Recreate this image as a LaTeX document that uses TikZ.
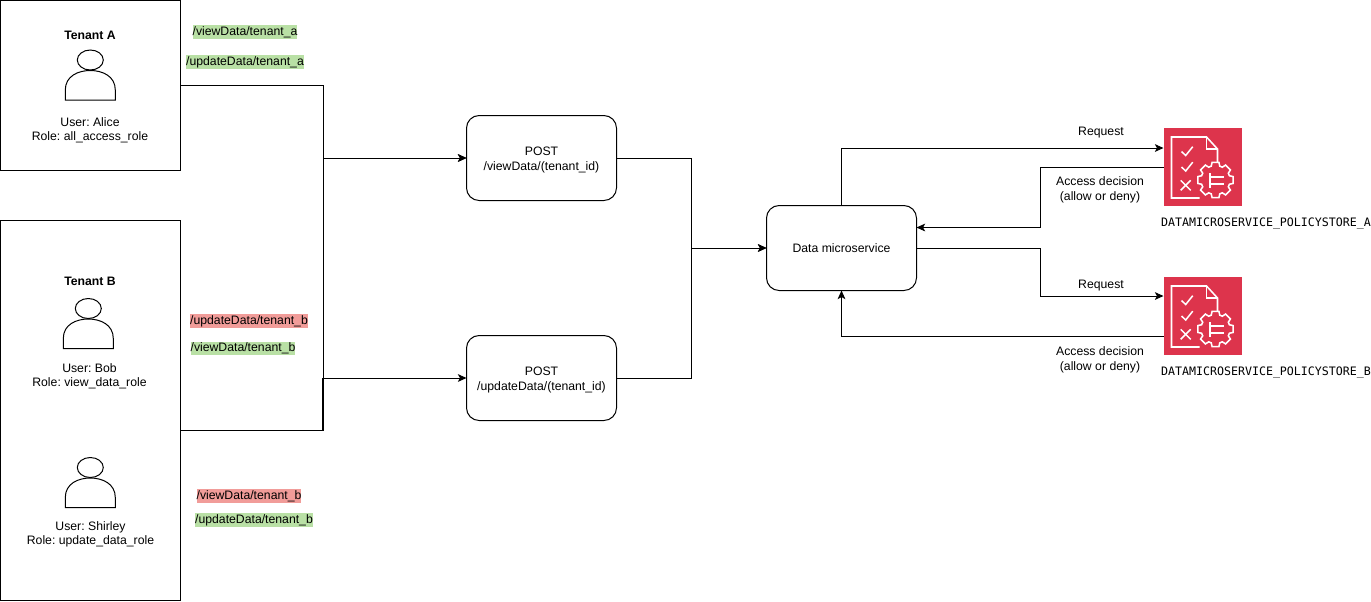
\documentclass[tikz,border=0pt]{standalone}
\usepackage{fontspec}
\setmainfont{Liberation Sans}
\newfontfamily\policyfont{DejaVu Sans Mono}
\usetikzlibrary{arrows.meta}
\frenchspacing
\definecolor{okgreen}{HTML}{B9E0A5}
\definecolor{denyred}{HTML}{F19C99}
\definecolor{policyred}{HTML}{DD344C}
\tikzset{
    every node/.style={font=\fontsize{9.18}{10.8}\selectfont, align=center, inner sep=0pt, outer sep=0pt},
    tenantbox/.style={draw, line width=0.75pt, minimum width=135pt},
    apibox/.style={draw, line width=0.75pt, rounded corners=9.5pt, minimum width=112.5pt, minimum height=63.75pt},
    policybox/.style={fill=policyred, minimum width=58.5pt, minimum height=58.5pt},
    link/.style={line width=0.75pt},
    arrow/.style={link, -{Stealth[length=6.5pt,width=5.8pt,inset=1.6pt]}},
    allowed/.style={fill=okgreen, inner ysep=1pt},
    denied/.style={fill=denyred, inner ysep=1pt},
    user/.pic={
        \draw[line width=0.75pt] (-25,0) -- (-25,-10) .. controls (-25,-24) and (-12,-29.5) .. (0,-29.5)
            .. controls (12,-29.5) and (25,-24) .. (25,-10) -- (25,0) -- cycle;
        \draw[line width=0.75pt] (0,-40) ellipse [x radius=13, y radius=10];
    },
    policyicon/.pic={
        \begin{scope}[white, line width=1.15pt]
            % Page
            \draw (36,70) -- (8,70) -- (8,9) -- (43,9) -- (54,21) -- (54,34);
            \draw (43,9) -- (43,21) -- (54,21);
            % Checks and cross
            \foreach \y in {0,15.5} {
                \draw (18,23.5+\y) -- (22.2,27.5+\y) -- (29.2,18.7+\y);
            }
            \draw (17.2,52.3) -- (27.2,62.3) (27.2,52.3) -- (17.2,62.3);
            % Gear
            \draw[shift={(52,52)}] (-17:14.5) \foreach \a in {0,45,...,315} {
                -- (\a-11:18) -- (\a+11:18) -- (\a+17:14.5) -- (\a+28:14.5)
            } -- cycle;
            \draw (46.5,45) -- (46.5,60) (46.5,49) -- (60,49) (46.5,56) -- (60,56);
        \end{scope}
    }
}
\begin{document}
\begin{tikzpicture}[x=0.75pt, y=-0.75pt]
    \useasboundingbox (0,0) rectangle (1371,601);
    % Tenants
    \node[tenantbox, minimum height=127.5pt] (tenantA) at (90.5,85.5) {};
    \node[tenantbox, minimum height=285pt] (tenantB) at (90.5,410.5) {};
    \node[font=\fontsize{9.18}{10.8}\selectfont\bfseries] (titleA) at (90,35.5) {Tenant A};
    \node[font=\fontsize{9.18}{10.8}\selectfont\bfseries] (titleB) at (90,281.5) {Tenant B};
    \pic at (90.3,100) {user};
    \pic at (88.3,348.5) {user};
    \pic at (90.3,507.5) {user};
    \node (alice) at (90,130) {User: Alice\\Role: all\_access\_role};
    \node (bob) at (89.5,376) {User: Bob\\Role: view\_data\_role};
    \node (shirley) at (90.5,534.5) {User: Shirley\\Role: update\_data\_role};
    % Paths per tenant
    \node[allowed] (viewA) at (245,32) {/viewData/tenant\_a};
    \node[allowed] (updateA) at (245,62) {/updateData/tenant\_a};
    \node[denied] (updateBobB) at (249,321) {/updateData/tenant\_b};
    \node[allowed] (viewBobB) at (243,348.5) {/viewData/tenant\_b};
    \node[denied] (viewShirleyB) at (249,496) {/viewData/tenant\_b};
    \node[allowed] (updateShirleyB) at (254,520) {/updateData/tenant\_b};
    % Services
    \node[apibox] (postView) at (541.5,158) {\rule{0pt}{9.5pt}POST\\/viewData/(tenant\_id)};
    \node[apibox] (postUpdate) at (541.5,378) {\rule{0pt}{9.5pt}POST\\/updateData/(tenant\_id)};
    \node[apibox] (data) at (841.5,248) {Data microservice};
    % Policy stores
    \node[policybox] (policyA) at (1202.5,167) {};
    \node[policybox] (policyB) at (1202.5,316) {};
    \pic at (policyA.north west) {policyicon};
    \pic at (policyB.north west) {policyicon};
    \node[font=\policyfont\fontsize{8.72}{10.5}\selectfont, anchor=west] (nameA) at (1161,224) {DATAMICROSERVICE\_POLICYSTORE\_A};
    \node[font=\policyfont\fontsize{8.72}{10.5}\selectfont, anchor=west] (nameB) at (1161,373) {DATAMICROSERVICE\_POLICYSTORE\_B};
    % Turning points
    \coordinate (busA) at (323.5,85.5);
    \coordinate (busB) at (323.5,430.5);
    \coordinate (busC) at (322.5,430.5);
    \coordinate (joinC) at (322.5,378);
    \coordinate (merge) at (691.5,248);
    \coordinate (reqA) at (1163.5,148);
    \coordinate (retA) at (1163.5,167.5);
    \coordinate (dataInA) at (916.5,227.5);
    \coordinate (turnA) at (1040.5,227.5);
    \coordinate (turnB) at (1040.5,296);
    \coordinate (reqB) at (1163.5,296);
    \coordinate (retB) at (1163.5,336);
    % Tenants to services
    \draw[arrow] (tenantA.east) -- (busA) |- (postView.west);
    \draw[arrow] (tenantB.east |- busB) -- (busB) |- (postView.west);
    \draw[arrow] (tenantA.east) -- (busA) |- (postUpdate.west);
    \draw[link] (tenantB.east |- busC) -- (busC) -- (joinC);
    % Services to microservice
    \draw[arrow] (postView.east) -| (merge) -- (data.west);
    \draw[arrow] (postUpdate.east) -| (merge) -- (data.west);
    % Microservice and policy stores
    \draw[arrow] (data.north) |- (reqA);
    \draw[arrow] (retA) -| (turnA) -- (dataInA);
    \draw[arrow] (data.east) -| (turnB) -- (reqB);
    \draw[arrow] (retB) -| (data.south);
    \node (reqLabelA) at (1101,133) {Request};
    \node (decLabelA) at (1100,190) {Access decision\\(allow or deny)};
    \node (reqLabelB) at (1101,286) {Request};
    \node (decLabelB) at (1100,360) {Access decision\\(allow or deny)};
\end{tikzpicture}
\end{document}
